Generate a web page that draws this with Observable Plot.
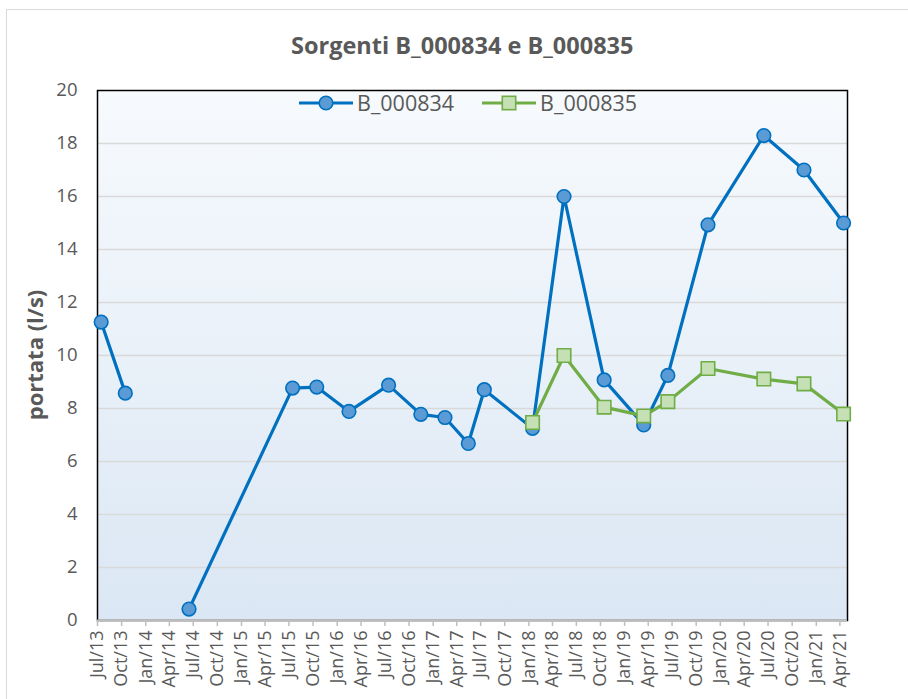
<!DOCTYPE html>
<html>
<head>
<meta charset="utf-8">
<script src="https://cdn.jsdelivr.net/npm/d3@7"></script>
<script src="https://cdn.jsdelivr.net/npm/@observablehq/plot@0.6"></script>
<style>
  html, body { margin: 0; padding: 0; background: #ffffff; }
  #wrap { position: relative; width: 908px; height: 699px; overflow: hidden; font-family: "Open Sans", sans-serif; color: #595959; }
  #border { position: absolute; left: 6px; top: 9px; width: 920px; height: 720px; border: 1.5px solid #d9d9d9; box-sizing: border-box; }
  #title { position: absolute; top: 29px; left: 291px; white-space: nowrap; font-size: 23.5px; font-weight: 700; color: #595959; }
  #ylabel { position: absolute; left: 34px; top: 355px; transform: translate(-50%, -50%) rotate(-90deg); font-size: 22px; font-weight: 700; color: #595959; white-space: nowrap; }
  #chart { position: absolute; left: 0; top: 80px; }
  #legend { position: absolute; top: 88px; left: 298px; display: flex; align-items: center; font-size: 21.5px; color: #595959; white-space: nowrap; }
  #legend .item { display: flex; align-items: center; }
  #legend svg { display: block; }
</style>
</head>
<body>
<div id="wrap">
  <div id="border"></div>
  <div id="title">Sorgenti B_000834 e B_000835</div>
  <div id="ylabel">portata (l/s)</div>
  <div id="chart"></div>
  <div id="legend"></div>
</div>
<script>
// ---- Data ----
const seriesNames = ["B_000834", "B_000835"];

const datesA = ["2013-07-15","2013-10-15","2014-01-15","2014-06-15","2015-07-15","2015-10-15","2016-02-15","2016-07-15","2016-11-15","2017-02-15","2017-05-15","2017-07-15","2018-01-15","2018-05-15","2018-10-15","2019-03-15","2019-06-15","2019-11-15","2020-06-15","2020-11-15","2021-04-15"];
const valuesA = [11.26, 8.58, null, 0.43, 8.77, 8.81, 7.89, 8.88, 7.78, 7.66, 6.68, 8.71, 7.25, 16.0, 9.08, 7.38, 9.25, 14.93, 18.3, 17.0, 15.0];

const datesB = ["2018-01-15","2018-05-15","2018-10-15","2019-03-15","2019-06-15","2019-11-15","2020-06-15","2020-11-15","2021-04-15"];
const valuesB = [7.47, 10.0, 8.05, 7.72, 8.26, 9.51, 9.11, 8.93, 7.79];

const yTicks = [0, 2, 4, 6, 8, 10, 12, 14, 16, 18, 20];
const gridValues = [2, 4, 6, 8, 10, 12, 14, 16, 18];
const xStart = "2013-07-01";
const xEnd = "2021-04-30";
const tickFirst = "2013-07-01";
const tickLast = "2021-04-01";

// ---- Build tables ----
const parse = d3.utcParse("%Y-%m-%d");
const dataA = datesA.map((d, i) => ({date: parse(d), value: valuesA[i]}));
const dataB = datesB.map((d, i) => ({date: parse(d), value: valuesB[i]}));
const xTicks = d3.utcMonth.every(3).range(parse(tickFirst), d3.utcDay.offset(parse(tickLast), 1));
const fmt = d3.utcFormat("%b/%y");

const colA = "#0070c0", fillA = "#5b9bd5";
const colB = "#70ad47", fillB = "#c5e0b4";

const defs = () => {
  const svgNS = "http://www.w3.org/2000/svg";
  const d = document.createElementNS(svgNS, "defs");
  d.innerHTML = `<linearGradient id="bg" x1="0" y1="0" x2="0" y2="1">
      <stop offset="0%" stop-color="#f7fafd"/>
      <stop offset="100%" stop-color="#dbe7f4"/>
    </linearGradient>`;
  return d;
};

const plot = Plot.plot({
  width: 908,
  height: 619,
  marginTop: 10,
  marginBottom: 79,
  marginLeft: 97,
  marginRight: 61,
  style: {fontFamily: "'Open Sans', sans-serif", fontSize: "17px", color: "#595959", background: "transparent", overflow: "visible"},
  x: {type: "utc", domain: [parse(xStart), parse(xEnd)]},
  y: {domain: [0, 20]},
  marks: [
    defs,
    Plot.frame({fill: "url(#bg)"}),
    Plot.gridY(gridValues, {stroke: "#d9d9d9", strokeOpacity: 1, strokeWidth: 1.5}),
    Plot.frame({stroke: "#000000", strokeWidth: 1.5}),
    Plot.ruleY([0], {stroke: "#bfbfbf", strokeWidth: 2}),
    Plot.axisY(yTicks, {tickSize: 0, tickPadding: 20, label: null, fill: "#595959", fontSize: 18.5}),
    Plot.axisX(xTicks, {tickFormat: fmt, tickRotate: -90, tickSize: 6, tickPadding: 4, stroke: "#bfbfbf", strokeWidth: 1.5, label: null, fill: "#595959", fontSize: 18}),
    Plot.line(dataA, {x: "date", y: "value", stroke: colA, strokeWidth: 3.2}),
    Plot.dot(dataA, {x: "date", y: "value", r: 6.8, fill: fillA, stroke: colA, strokeWidth: 1.6}),
    Plot.line(dataB, {x: "date", y: "value", stroke: colB, strokeWidth: 3.2}),
    Plot.dot(dataB, {x: "date", y: "value", symbol: "square", r: 7.6, fill: fillB, stroke: colB, strokeWidth: 1.6})
  ]
});
document.getElementById("chart").appendChild(plot);

// ---- Legend ----
const legend = document.getElementById("legend");
const swatches = [
  `<svg width="56" height="20"><line x1="1" y1="10" x2="55" y2="10" stroke="${colA}" stroke-width="3.2"/><circle cx="28" cy="10" r="6.8" fill="${fillA}" stroke="${colA}" stroke-width="1.6"/></svg>`,
  `<svg width="56" height="20"><line x1="1" y1="10" x2="55" y2="10" stroke="${colB}" stroke-width="3.2"/><rect x="21.3" y="3.3" width="13.4" height="13.4" fill="${fillB}" stroke="${colB}" stroke-width="1.6"/></svg>`
];
seriesNames.forEach((name, i) => {
  const item = document.createElement("div");
  item.className = "item";
  item.style.marginRight = i === 0 ? "27px" : "0";
  item.innerHTML = swatches[i] + `<span style="margin-left:3px">${name}</span>`;
  legend.appendChild(item);
});
</script>
</body>
</html>
